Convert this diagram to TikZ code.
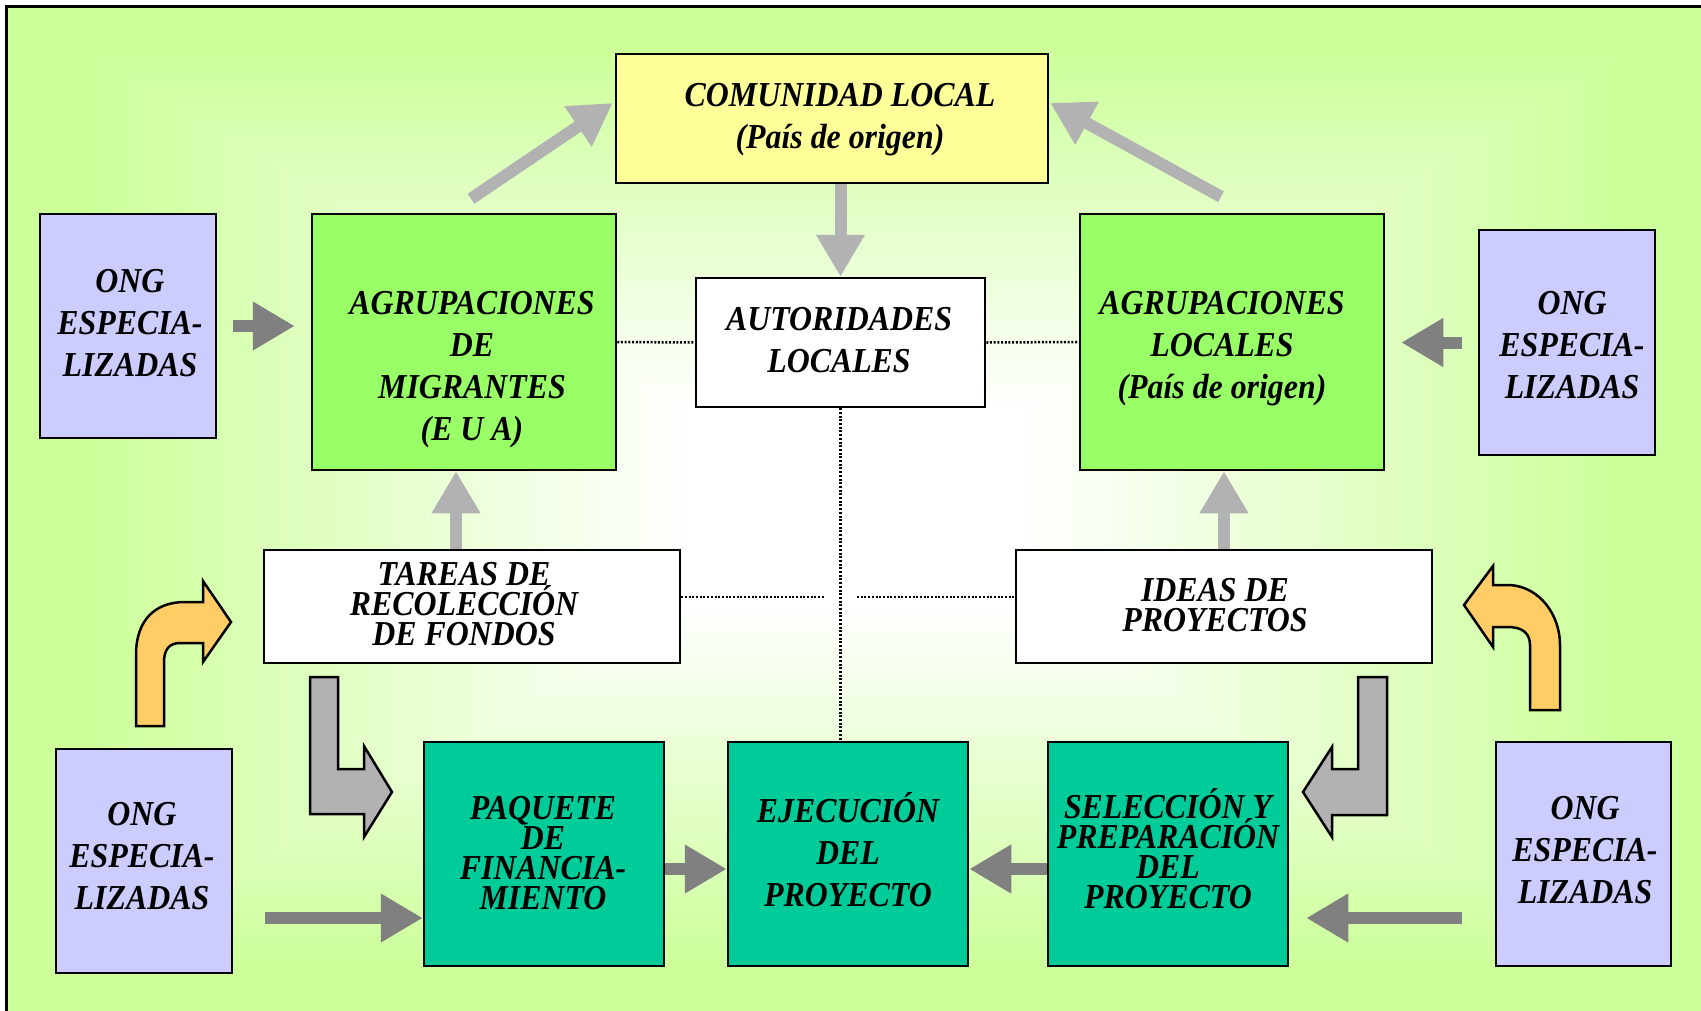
\documentclass[tikz,border=0pt]{standalone}
\usepackage{fontspec}
\setmainfont{Liberation Serif}[FakeStretch=0.91]
\usetikzlibrary{arrows.meta,calc}
\definecolor{bggreen}{HTML}{CCFF99}
\definecolor{edgegreen}{HTML}{C6FF8E}
\definecolor{ongc}{HTML}{CCCCFF}
\definecolor{agc}{HTML}{99FF66}
\definecolor{tealc}{HTML}{00CC99}
\definecolor{comc}{HTML}{FFFF99}
\definecolor{lgray}{HTML}{B2B2B2}
\definecolor{dgray}{HTML}{808080}
\definecolor{orangec}{HTML}{FFCC66}
\lineskiplimit=-100pt
\tikzset{
  box/.style={draw=black, line width=2.5pt, rectangle, inner sep=0pt},
  txt/.style={font=\fontsize{35}{42}\selectfont\bfseries\itshape, align=center, inner sep=0pt},
  tighttxt/.style={font=\fontsize{35}{30}\selectfont\bfseries\itshape, align=center, inner sep=0pt},
  larr/.style={draw=lgray, line width=12pt, -{Triangle[length=42pt,width=46pt]}},
  darr/.style={draw=dgray, line width=12pt, -{Triangle[length=42pt,width=46pt]}},
  dots/.style={line width=2.5pt, dash pattern=on 2pt off 1.7pt},
  bent/.style={draw=black, line width=2.5pt, line join=miter},
}
\begin{document}
\begin{tikzpicture}[x=1pt,y=-1pt]
\useasboundingbox (0,0) rectangle (1701,1010);
% background: rectangular "from centre" gradient
\begin{scope}
  \clip (6,6) rectangle (1701,1010);
  \fill[edgegreen] (6,6) rectangle (1701,1010);
  \foreach \i in {0,...,64}{
    \pgfmathsetmacro{\t}{1.05-\i*0.85/64}
    \pgfmathsetmacro{\f}{min(1,max(0,(\t-0.2)/0.72))}
    \pgfmathsetmacro{\w}{100*(1-\f)}
    \colorlet{bgstep}{white!\w!bggreen}
    \fill[bgstep] ({856-850*\t},{508-505*\t}) rectangle ({856+850*\t},{508+505*\t});
  }
\end{scope}
\draw[line width=3pt] (6,1012) -- (6,6) -- (1703,6);

% boxes
\node[box, fill=comc, minimum width=432pt, minimum height=129pt] (com) at (832,118.5) {};
\node[box, fill=white, minimum width=289pt, minimum height=129pt] (aut) at (840.5,342.5) {};
\node[box, fill=agc, minimum width=304pt, minimum height=256pt] (agm) at (464,342) {};
\node[box, fill=agc, minimum width=304pt, minimum height=256pt] (agl) at (1232,342) {};
\node[box, fill=ongc, minimum width=176pt, minimum height=224pt] (ong1) at (128,326) {};
\node[box, fill=ongc, minimum width=176pt, minimum height=225pt] (ong2) at (1567,342.5) {};
\node[box, fill=white, minimum width=416pt, minimum height=113pt] (tar) at (472,606.5) {};
\node[box, fill=white, minimum width=416pt, minimum height=113pt] (ide) at (1224,606.5) {};
\node[box, fill=ongc, minimum width=176pt, minimum height=224pt] (ong3) at (144,861) {};
\node[box, fill=tealc, minimum width=240pt, minimum height=224pt] (pag) at (544,854) {};
\node[box, fill=tealc, minimum width=240pt, minimum height=224pt] (eje) at (848,854) {};
\node[box, fill=tealc, minimum width=240pt, minimum height=224pt] (sel) at (1168,854) {};
\node[box, fill=ongc, minimum width=175pt, minimum height=224pt] (ong4) at (1583.5,854) {};

% texts
\node[txt] (comT) at (840,120) {COMUNIDAD LOCAL\\(País de origen)};
\node[txt] (autT) at (839,340) {AUTORIDADES\\LOCALES};
\node[txt] (agmT) at (472,370) {AGRUPACIONES\\DE\\MIGRANTES\\(E U A)};
\node[txt] (aglT) at (1222,349) {AGRUPACIONES\\LOCALES\\(País de origen)};
\node[txt] (ong1T) at (130,323) {ONG\\ESPECIA-\\LIZADAS};
\node[txt] (ong2T) at (1572,345) {ONG\\ESPECIA-\\LIZADAS};
\node[tighttxt] (tarT) at (464,604) {TAREAS DE\\RECOLECCIÓN\\DE FONDOS};
\node[tighttxt] (ideT) at (1215,605) {IDEAS DE\\PROYECTOS};
\node[txt] (ong3T) at (142,856) {ONG\\ESPECIA-\\LIZADAS};
\node[txt] (ong4T) at (1585,850) {ONG\\ESPECIA-\\LIZADAS};
\node[tighttxt] (pagT) at (543,853) {PAQUETE\\DE\\FINANCIA-\\MIENTO};
\node[txt] (ejeT) at (848,850) {EJECUCIÓN\\DEL\\PROYECTO};
\node[tighttxt] (selT) at (1168,849) {SELECCIÓN Y\\PREPARACIÓN\\DEL\\PROYECTO};

% dotted links
\coordinate (dl) at (824,597);
\coordinate (dr) at (857,597);
\draw[dots] (agm.east) -- (aut.west);
\draw[dots] (aut.east) -- (agl.west);
\draw[dots] (aut.south) -- (aut.south |- eje.north);
\draw[dots] (tar.east |- dl) -- (dl);
\draw[dots] (dr) -- (dr -| ide.west);

% light gray arrows
\draw[larr] ($(agm.north)+(7,-14)$) -- ($(com.west)+(-2,-15.5)$);
\draw[larr] ($(agl.north)+(-11,-16)$) -- ($(com.east)+(1,-15.5)$);
\draw[larr] (com.south -| aut.north) -- (aut.north);
\draw[larr] ($(tar.north)+(-16,0)$) -- ($(agm.south)+(-8,0)$);
\draw[larr] (ide.north) -- (ide.north |- agl.south);

% dark gray arrows
\draw[darr, shorten <=16pt, shorten >=16pt] (ong1.east) -- (ong1.east -| agm.west);
\draw[darr, shorten <=16pt, shorten >=16pt] (ong2.west) -- (ong2.west -| agl.east);
\draw[darr] ($(ong3.east)+(32,57)$) -- ($(pag.west)+(0,64)$);
\draw[darr] ($(pag.east)+(0,15)$) -- ($(eje.west)+(0,15)$);
\draw[darr] ($(sel.west)+(0,15)$) -- ($(eje.east)+(0,15)$);
\draw[darr] ($(ong4.west)+(-33,64)$) -- ($(sel.east)+(17,64)$);

% bent block arrows
\draw[bent, fill=orangec] (136,726) -- (136,655) .. controls (136,620) and (155,602) .. (185,602) -- (203,602) -- (203,581) -- (231,622) -- (203,662) -- (203,643) -- (180,643) .. controls (169,643) and (164,650) .. (164,662) -- (164,726) -- cycle;
\draw[bent, fill=orangec] (1530,710) -- (1530,645) .. controls (1530,633) and (1522,627) .. (1508,627) -- (1493,627) -- (1493,647) -- (1464,605) -- (1493,566) -- (1493,585) -- (1510,585) .. controls (1540,587) and (1560,615) .. (1560,645) -- (1560,710) -- cycle;
\draw[bent, fill=lgray] (310,677) -- (338,677) -- (338,769) -- (364,769) -- (364,746) -- (392,792) -- (364,837) -- (364,814) -- (310,814) -- cycle;
\draw[bent, fill=lgray] (1358,677) -- (1387,677) -- (1387,815) -- (1332,815) -- (1332,837) -- (1303,792) -- (1332,747) -- (1332,769) -- (1358,769) -- cycle;
\end{tikzpicture}
\end{document}
